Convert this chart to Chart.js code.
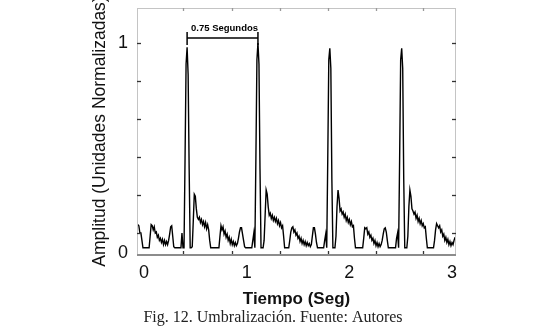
<!DOCTYPE html>
<html>
<head>
<meta charset="utf-8">
<script src="https://cdn.jsdelivr.net/npm/chart.js@4.4.1/dist/chart.umd.min.js"></script>
<style>
  html, body { margin: 0; padding: 0; background: #fff; }
</style>
</head>
<body>
<canvas id="umbral" width="550" height="326"></canvas>
<script>
const startTime = -0.07;
const sampleStep = 0.01;
const amplitude = [
  0.135, 0.135, 0.13, 0.095, 0.095, 0.06, 0.025, 0.025, 0.025, 0.025,
  0.025, 0.025, 0.025, 0.08, 0.135, 0.13, 0.11, 0.125, 0.095, 0.10,
  0.075, 0.085, 0.06, 0.07, 0.05, 0.065, 0.04, 0.06, 0.04, 0.055,
  0.04, 0.06, 0.09, 0.125, 0.13, 0.08, 0.03, 0.025, 0.025, 0.025,
  0.025, 0.025, 0.025, 0.025, 0.095, 0.025, 0.025, 0.45, 0.9, 0.98,
  0.85, 0.4, 0.025, 0.025, 0.03, 0.15, 0.28, 0.27, 0.21, 0.17,
  0.16, 0.17, 0.145, 0.16, 0.135, 0.15, 0.125, 0.145, 0.115, 0.135,
  0.11, 0.06, 0.025, 0.025, 0.025, 0.025, 0.025, 0.025, 0.025, 0.025,
  0.025, 0.08, 0.13, 0.11, 0.125, 0.09, 0.105, 0.075, 0.09, 0.06,
  0.075, 0.045, 0.065, 0.04, 0.055, 0.035, 0.05, 0.035, 0.045, 0.07,
  0.10, 0.12, 0.12, 0.09, 0.06, 0.03, 0.025, 0.025, 0.025, 0.025,
  0.025, 0.025, 0.025, 0.06, 0.095, 0.025, 0.45, 0.92, 1.0, 0.9,
  0.4, 0.025, 0.025, 0.025, 0.06, 0.18, 0.30, 0.28, 0.22, 0.18,
  0.19, 0.165, 0.18, 0.155, 0.17, 0.15, 0.165, 0.14, 0.155, 0.13,
  0.145, 0.12, 0.13, 0.08, 0.025, 0.025, 0.025, 0.025, 0.025, 0.06,
  0.10, 0.12, 0.125, 0.10, 0.11, 0.085, 0.095, 0.07, 0.08, 0.055,
  0.07, 0.045, 0.06, 0.04, 0.055, 0.035, 0.05, 0.035, 0.045, 0.03,
  0.04, 0.08, 0.12, 0.12, 0.09, 0.05, 0.025, 0.025, 0.025, 0.025,
  0.025, 0.025, 0.025, 0.06, 0.09, 0.025, 0.45, 0.92, 0.975, 0.88,
  0.35, 0.025, 0.025, 0.025, 0.08, 0.22, 0.30, 0.26, 0.20, 0.21,
  0.185, 0.195, 0.17, 0.185, 0.155, 0.17, 0.145, 0.16, 0.135, 0.15,
  0.125, 0.13, 0.07, 0.025, 0.025, 0.025, 0.025, 0.025, 0.025, 0.025,
  0.025, 0.07, 0.12, 0.115, 0.12, 0.09, 0.10, 0.075, 0.085, 0.06,
  0.07, 0.045, 0.06, 0.035, 0.05, 0.03, 0.045, 0.03, 0.04, 0.06,
  0.09, 0.115, 0.12, 0.10, 0.06, 0.025, 0.025, 0.025, 0.025, 0.025,
  0.025, 0.025, 0.025, 0.07, 0.095, 0.025, 0.45, 0.92, 0.975, 0.88,
  0.35, 0.025, 0.025, 0.025, 0.08, 0.22, 0.30, 0.27, 0.21, 0.20,
  0.185, 0.195, 0.165, 0.18, 0.15, 0.165, 0.14, 0.155, 0.13, 0.14,
  0.12, 0.125, 0.07, 0.025, 0.025, 0.025, 0.025, 0.025, 0.025, 0.025,
  0.06, 0.11, 0.14, 0.13, 0.12, 0.13, 0.10, 0.11, 0.08, 0.09,
  0.06, 0.075, 0.05, 0.065, 0.04, 0.055, 0.035, 0.05, 0.04, 0.06, 0.075
];

// axis labels and the little tick marks of the box
const xLabels = [0, 1, 2, 3];
const yLabels = [0, 1];
const xTickMarks = [0.38, 0.857, 1.325, 1.792, 2.26, 2.717];
const yTickMarks = [1.0, 0.819, 0.638, 0.457, 0.276, 0.095];

// annotation between the first two beats
const bracketFrom = 0.42;
const bracketTo = 1.11;
const bracketLevel = 1.024;
const bracketText = '0.75 Segundos';
const caption = 'Fig. 12. Umbralización. Fuente: Autores';

const points = amplitude.map((a, i) => ({ x: startTime + i * sampleStep, y: a }));

const boxPlugin = {
  id: 'box',
  afterDraw(chart) {
    const { ctx, chartArea: a, scales: { x, y } } = chart;
    const line = (x1, y1, x2, y2) => {
      ctx.beginPath(); ctx.moveTo(x1, y1); ctx.lineTo(x2, y2); ctx.stroke();
    };
    ctx.save();
    ctx.strokeStyle = '#c4c4c4';
    ctx.lineWidth = 1;
    ctx.strokeRect(a.left + 0.5, a.top + 0.5, a.right - a.left - 1, a.bottom - a.top);
    ctx.strokeStyle = '#8c8c8c';
    ctx.lineWidth = 2;
    line(a.left, a.bottom, a.right, a.bottom);

    ctx.lineWidth = 1.3;
    xTickMarks.forEach(t => {
      const px = Math.round(x.getPixelForValue(t)) + 0.5;
      ctx.strokeStyle = '#333';
      line(px, a.bottom - 1, px, a.bottom - 4);
      ctx.strokeStyle = '#999';
      line(px, a.top, px, a.top + 3);
    });
    ctx.strokeStyle = '#333';
    yTickMarks.forEach(v => {
      const py = Math.round(y.getPixelForValue(v)) + 0.5;
      line(a.left, py, a.left + 4, py);
      line(a.right - 4, py, a.right, py);
    });

    // bracket
    const bx1 = x.getPixelForValue(bracketFrom);
    const bx2 = x.getPixelForValue(bracketTo);
    const by = y.getPixelForValue(bracketLevel);
    ctx.strokeStyle = '#000';
    ctx.lineWidth = 1.5;
    line(bx1, by, bx2, by);
    line(bx1, by - 6, bx1, by + 7);
    line(bx2, by - 6, bx2, by + 7);
    ctx.fillStyle = '#000';
    ctx.font = 'bold 9.5px "Liberation Sans", Arial, sans-serif';
    ctx.textAlign = 'center';
    ctx.textBaseline = 'middle';
    ctx.fillText(bracketText, (bx1 + bx2) / 2 + 2, by - 10);
    ctx.restore();
  }
};

new Chart(document.getElementById('umbral'), {
  type: 'line',
  data: {
    datasets: [{
      data: points,
      borderColor: '#000',
      borderWidth: 1.4,
      pointRadius: 0,
      tension: 0,
      fill: false
    }]
  },
  options: {
    responsive: false,
    animation: false,
    devicePixelRatio: 1,
    layout: { padding: { left: 90, right: 94, top: 8, bottom: 0 } },
    plugins: {
      legend: { display: false },
      tooltip: { enabled: false },
      title: {
        display: true,
        position: 'bottom',
        text: caption,
        color: '#222',
        font: { family: '"Liberation Serif", serif', size: 16, weight: 'normal', lineHeight: 1 },
        padding: { top: 2, bottom: 0 }
      }
    },
    scales: {
      x: {
        type: 'linear',
        min: -0.068,
        max: 3.039,
        afterBuildTicks: s => { s.ticks = xLabels.map(v => ({ value: v })); },
        afterFit: s => { s.height = 53; },
        grid: { display: false, drawTicks: false },
        border: { display: false },
        ticks: {
          autoSkip: false,
          padding: 7,
          color: '#111',
          font: { family: '"Liberation Sans", Arial, sans-serif', size: 18 }
        },
        title: {
          display: true,
          text: 'Tiempo (Seg)',
          color: '#111',
          padding: 0,
          font: { family: '"Liberation Sans", Arial, sans-serif', size: 17, weight: 'bold', lineHeight: 1 }
        }
      },
      y: {
        min: -0.0095,
        max: 1.1667,
        afterBuildTicks: s => { s.ticks = yLabels.map(v => ({ value: v })); },
        afterFit: s => { s.width = 47; s.paddingTop = 0; s.paddingBottom = 0; },
        grid: { display: false, drawTicks: false },
        border: { display: false },
        ticks: {
          padding: 9,
          color: '#111',
          font: { family: '"Liberation Sans", Arial, sans-serif', size: 18 }
        },
        title: {
          display: true,
          text: 'Amplitud (Unidades Normalizadas)',
          color: '#111',
          padding: 0,
          font: { family: '"Liberation Sans", Arial, sans-serif', size: 17.5 }
        }
      }
    }
  },
  plugins: [boxPlugin]
});
</script>
</body>
</html>
